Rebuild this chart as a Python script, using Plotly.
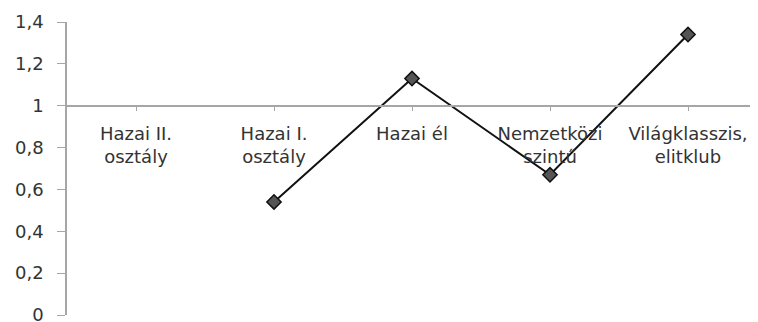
import plotly.graph_objects as go

# categories (x) and values (y); first category has no value
categories = [
    "Hazai II.<br>osztály",
    "Hazai I.<br>osztály",
    "Hazai él",
    "Nemzetközi<br>szintű",
    "Világklasszis,<br>elitklub",
]
values = [None, 0.54, 1.13, 0.67, 1.34]
y_ticks = [0, 0.2, 0.4, 0.6, 0.8, 1, 1.2, 1.4]

font_family = "DejaVu Sans"
text_color = "#333333"
axis_color = "#a6a6a6"

fig = go.Figure()

fig.add_trace(go.Scatter(
    x=list(range(len(categories))),
    y=values,
    mode="lines+markers",
    line=dict(color="#111111", width=2),
    marker=dict(symbol="diamond", size=11, color="#555555",
                line=dict(color="#111111", width=1.5)),
    connectgaps=False,
    showlegend=False,
))

# margins allow for the 8px page body margin
fig.update_layout(
    width=758,
    height=322,
    margin=dict(l=59, r=9, t=14, b=15),
    plot_bgcolor="white",
    paper_bgcolor="white",
    separators=", ",
    font=dict(family=font_family, color=text_color, size=18),
)

# x axis crosses the y axis at 1
fig.update_xaxes(
    range=[-0.5, len(categories) - 0.5],
    tickmode="array",
    tickvals=list(range(len(categories))),
    ticktext=categories,
    tickangle=0,
    tickson="boundaries",
    ticks="outside",
    ticklen=5,
    tickcolor=axis_color,
    showline=True,
    linecolor=axis_color,
    linewidth=1.5,
    showgrid=False,
    zeroline=False,
    anchor="free",
    position=1 / 1.4,
    ticklabelstandoff=7,
    automargin=False,
    tickfont=dict(size=18, color=text_color),
)

fig.update_yaxes(
    range=[0, 1.4],
    tickmode="array",
    tickvals=y_ticks,
    ticks="outside",
    ticklen=8,
    tickcolor=axis_color,
    showline=True,
    linecolor=axis_color,
    linewidth=1.5,
    showgrid=False,
    zeroline=False,
    ticklabelstandoff=10,
    automargin=False,
    tickfont=dict(size=18, color=text_color),
)

fig.write_html("out.html")
